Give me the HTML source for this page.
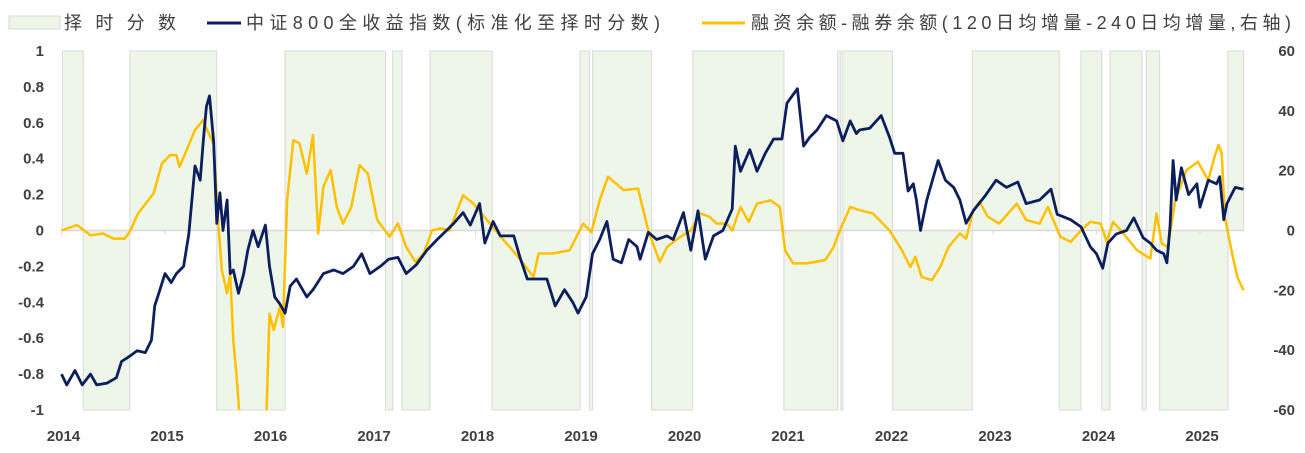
<!DOCTYPE html>
<html><head><meta charset="utf-8"><style>
html,body{margin:0;padding:0;background:#fff;}
svg{display:block;font-family:"Liberation Sans","Noto Sans CJK SC",sans-serif;}
</style></head><body>
<svg id="chart" width="1305" height="453" viewBox="0 0 1305 453"></svg>
<script>
// ---- data ----
const bandStarts = [2014.01,2014.21,2014.66,2015.50,2016.16,2017.13,2017.20,2017.29,2017.56,2018.16,2019.01,2019.10,2019.13,2019.70,2020.10,2020.98,2021.50,2021.53,2021.55,2022.03,2022.80,2023.64,2023.85,2024.05,2024.13,2024.44,2024.48,2024.61,2025.27];
const bandValues = [1,-1,1,-1,1,-1,1,-1,1,-1,1,-1,1,-1,1,-1,1,-1,1,-1,1,-1,1,-1,1,-1,1,-1,1];
const bandEnd = 2025.42;
const csiDates = [2014.0,2014.05,2014.13,2014.2,2014.28,2014.34,2014.44,2014.53,2014.58,2014.66,2014.73,2014.81,2014.87,2014.90,2014.94,2015.0,2015.06,2015.11,2015.18,2015.23,2015.29,2015.34,2015.37,2015.40,2015.43,2015.47,2015.50,2015.53,2015.56,2015.60,2015.63,2015.66,2015.71,2015.76,2015.80,2015.85,2015.90,2015.97,2016.01,2016.06,2016.11,2016.16,2016.21,2016.27,2016.37,2016.43,2016.53,2016.63,2016.72,2016.82,2016.90,2016.98,2017.08,2017.16,2017.25,2017.33,2017.43,2017.53,2017.63,2017.72,2017.79,2017.88,2017.95,2018.04,2018.09,2018.17,2018.24,2018.37,2018.43,2018.50,2018.59,2018.69,2018.77,2018.86,2018.94,2018.99,2019.07,2019.13,2019.20,2019.27,2019.33,2019.41,2019.48,2019.56,2019.59,2019.67,2019.75,2019.85,2019.91,2020.01,2020.08,2020.15,2020.22,2020.30,2020.39,2020.48,2020.51,2020.56,2020.65,2020.72,2020.80,2020.88,2020.96,2021.01,2021.11,2021.17,2021.23,2021.30,2021.39,2021.49,2021.55,2021.62,2021.68,2021.71,2021.81,2021.92,2022.0,2022.05,2022.13,2022.18,2022.23,2022.26,2022.30,2022.36,2022.47,2022.54,2022.62,2022.68,2022.74,2022.81,2022.92,2023.03,2023.13,2023.24,2023.32,2023.45,2023.56,2023.62,2023.75,2023.85,2023.94,2024.0,2024.06,2024.11,2024.19,2024.29,2024.36,2024.45,2024.52,2024.58,2024.65,2024.68,2024.71,2024.74,2024.77,2024.82,2024.89,2024.97,2025.0,2025.08,2025.16,2025.19,2025.23,2025.26,2025.34,2025.42];
const csiValues = [-0.80,-0.86,-0.78,-0.86,-0.80,-0.86,-0.85,-0.82,-0.73,-0.70,-0.67,-0.68,-0.61,-0.42,-0.35,-0.24,-0.29,-0.24,-0.20,-0.02,0.36,0.28,0.50,0.69,0.75,0.50,0.04,0.21,0.0,0.17,-0.24,-0.22,-0.35,-0.24,-0.11,0.0,-0.09,0.03,-0.20,-0.37,-0.41,-0.46,-0.31,-0.27,-0.37,-0.33,-0.24,-0.22,-0.24,-0.20,-0.13,-0.24,-0.20,-0.16,-0.15,-0.24,-0.19,-0.11,-0.05,0.0,0.04,0.10,0.03,0.15,-0.07,0.05,-0.03,-0.03,-0.15,-0.27,-0.27,-0.27,-0.42,-0.33,-0.40,-0.46,-0.37,-0.13,-0.05,0.05,-0.16,-0.18,-0.05,-0.09,-0.16,-0.01,-0.05,-0.03,-0.05,0.10,-0.11,0.11,-0.16,-0.03,0.0,0.12,0.47,0.33,0.45,0.33,0.43,0.51,0.51,0.71,0.79,0.47,0.52,0.56,0.64,0.61,0.50,0.61,0.54,0.56,0.57,0.64,0.52,0.43,0.43,0.22,0.26,0.17,0.0,0.17,0.39,0.28,0.24,0.17,0.04,0.11,0.19,0.28,0.24,0.27,0.15,0.17,0.23,0.09,0.06,0.02,-0.09,-0.13,-0.21,-0.07,-0.02,0.0,0.07,-0.04,-0.07,-0.11,-0.13,-0.18,0.02,0.39,0.17,0.35,0.20,0.26,0.13,0.28,0.26,0.30,0.06,0.15,0.24,0.23];
const marginDates = [2014.0,2014.15,2014.28,2014.4,2014.5,2014.61,2014.66,2014.74,2014.89,2014.97,2015.05,2015.11,2015.14,2015.21,2015.29,2015.37,2015.40,2015.47,2015.52,2015.55,2015.60,2015.63,2015.66,2015.69,2015.72,2015.98,2016.01,2016.05,2016.11,2016.14,2016.18,2016.24,2016.30,2016.37,2016.43,2016.48,2016.53,2016.60,2016.66,2016.72,2016.80,2016.88,2016.96,2017.05,2017.17,2017.25,2017.33,2017.42,2017.50,2017.58,2017.66,2017.75,2017.88,2017.98,2018.14,2018.30,2018.40,2018.56,2018.61,2018.75,2018.91,2019.04,2019.12,2019.20,2019.28,2019.43,2019.57,2019.67,2019.78,2019.85,2019.98,2020.08,2020.17,2020.26,2020.33,2020.43,2020.48,2020.56,2020.64,2020.72,2020.85,2020.94,2020.99,2021.07,2021.20,2021.38,2021.46,2021.52,2021.62,2021.71,2021.84,2022.0,2022.12,2022.20,2022.25,2022.31,2022.41,2022.49,2022.57,2022.68,2022.74,2022.81,2022.87,2022.95,2023.06,2023.23,2023.32,2023.45,2023.53,2023.65,2023.75,2023.85,2023.94,2024.04,2024.10,2024.16,2024.26,2024.39,2024.52,2024.58,2024.63,2024.69,2024.76,2024.87,2024.98,2025.08,2025.14,2025.18,2025.21,2025.24,2025.31,2025.36,2025.42];
const marginValues = [0,1.8,-1.6,-1,-2.7,-2.7,-0.4,5.7,12.4,22.4,25.2,25.2,21.3,26.9,33.6,36.9,34.1,29.1,0,-13.3,-21,-14.4,-36.7,-47.8,-62,-62,-27.8,-33.3,-25.5,-32.2,10.1,30.2,29.1,19,31.9,-1,14.6,20.2,7.9,2.3,7.9,21.9,19,3.5,-2.1,2.3,-5.5,-10.5,-7.7,0,0.7,0,11.8,9,2.3,-4.3,-8.3,-15.5,-7.7,-7.7,-6.6,2.3,-0.5,10.1,18,13.5,14,0,-10.5,-5.5,-2.1,0,5.7,4.6,2.3,2.3,0,7.9,2.9,9,10.1,7.9,-6.6,-11,-11,-9.9,-5.5,0,7.9,6.8,5.7,0,-6.6,-12.2,-8.8,-15.5,-16.6,-12.2,-5.5,-1,-2.7,6.8,9.6,4.6,2.3,9,3.5,2.3,7.9,-2.1,-3.8,0,2.9,2.3,-3.8,2.9,-1,-6.6,-9.4,5.7,-4.3,-5.5,10.1,20.2,23,16.8,24.6,28.6,25.8,4.6,-7.7,-15.5,-20];
const leftTicks = [1,0.8,0.6,0.4,0.2,0,-0.2,-0.4,-0.6,-0.8,-1];
const leftTickLabels = ["1","0.8","0.6","0.4","0.2","0","-0.2","-0.4","-0.6","-0.8","-1"];
const rightTicks = [60,40,20,0,-20,-40,-60];
const yearTicks = [2014,2015,2016,2017,2018,2019,2020,2021,2022,2023,2024,2025];

// ---- axes ----
const X0 = 61.5, PXY = 103.5;
const xs = d => X0 + (d - 2014) * PXY;
const yL = v => 230.5 - v * 179.5;
const yR = v => 230.5 - (v / 60) * 179.5;
const NS = 'http://www.w3.org/2000/svg';
const svg = document.getElementById('chart');
function mk(tag, attrs, parent) {
  const e = document.createElementNS(NS, tag);
  for (const k in attrs) e.setAttribute(k, attrs[k]);
  (parent || svg).appendChild(e);
  return e;
}
const defs = mk('defs', {});
const cp = mk('clipPath', {id: 'plotclip'}, defs);
mk('rect', {x: 55, y: yL(1), width: 1200, height: yL(-1) - yL(1)}, cp);

// bands
const bandG = mk('g', {});


for (let i = 0; i < bandStarts.length; i++) {
  const x1 = xs(bandStarts[i]);
  const x2 = xs(i + 1 < bandStarts.length ? bandStarts[i + 1] : bandEnd);
  const v = bandValues[i];
  const yt = Math.min(yL(v), yL(0)), yb = Math.max(yL(v), yL(0));
  const r = mk('rect', {x: x1, y: yt, width: x2 - x1, height: yb - yt, fill: '#eef6ea', stroke: '#d9d9d9', 'stroke-width': 1}, bandG);
  
  
}
// zero axis
const zl = mk('line', {x1: xs(2014), x2: xs(bandEnd), y1: yL(0), y2: yL(0), stroke: '#d9d9d9', 'stroke-width': 1.5});


yearTicks.forEach(t => {
  const tl = mk('line', {x1: xs(t), x2: xs(t), y1: yL(0), y2: yL(0) + 4, stroke: '#d9d9d9', 'stroke-width': 1});
  
  
});

function pathD(dates, vals, yf) {
  return dates.map((d, i) => (i ? 'L' : 'M') + xs(d).toFixed(1) + ',' + yf(vals[i]).toFixed(1)).join('');
}
const ml = mk('path', {d: pathD(marginDates, marginValues, yR), fill: 'none', stroke: '#ffc000', 'stroke-width': 2.5, 'stroke-linejoin': 'round', 'clip-path': 'url(#plotclip)'});


const cl = mk('path', {d: pathD(csiDates, csiValues, yL), fill: 'none', stroke: '#0c1f5c', 'stroke-width': 2.8, 'stroke-linejoin': 'round'});



// tick labels
leftTicks.forEach((t, i) => {
  const e = mk('text', {x: 44, y: yL(t) + 5, 'text-anchor': 'end', 'font-size': 15, 'font-weight': 'bold', fill: '#404040'});
  e.textContent = leftTickLabels[i];
  
  
});
rightTicks.forEach(t => {
  const e = mk('text', {x: 1295, y: yR(t) + 5, 'text-anchor': 'end', 'font-size': 15, 'font-weight': 'bold', fill: '#404040'});
  e.textContent = String(t);
  
  
});
yearTicks.forEach(t => {
  const e = mk('text', {x: xs(t) + 2, y: 441, 'text-anchor': 'middle', 'font-size': 15, 'font-weight': 'bold', fill: '#404040'});
  e.textContent = String(t);
  
  
});

// legend
const lg = mk('g', {});


const s1 = mk('rect', {x: 9, y: 16, width: 51, height: 13, fill: '#eef6ea', stroke: '#d9d9d9'}, lg);


const t1 = mk('text', {x: 64, y: 29, 'font-size': 18, fill: '#404040', textLength: 112}, lg);
t1.textContent = '择时分数';


const s2 = mk('line', {x1: 207, x2: 241, y1: 23, y2: 23, stroke: '#0c1f5c', 'stroke-width': 3}, lg);


const t2 = mk('text', {x: 246, y: 29, 'font-size': 18, fill: '#404040', textLength: 414}, lg);
t2.textContent = '中证800全收益指数(标准化至择时分数)';


const s3 = mk('line', {x1: 702, x2: 745, y1: 23, y2: 23, stroke: '#ffc000', 'stroke-width': 3}, lg);


const t3 = mk('text', {x: 751, y: 29, 'font-size': 18, fill: '#404040', textLength: 540}, lg);
t3.textContent = '融资余额-融券余额(120日均增量-240日均增量,右轴)';


</script>
</body></html>
